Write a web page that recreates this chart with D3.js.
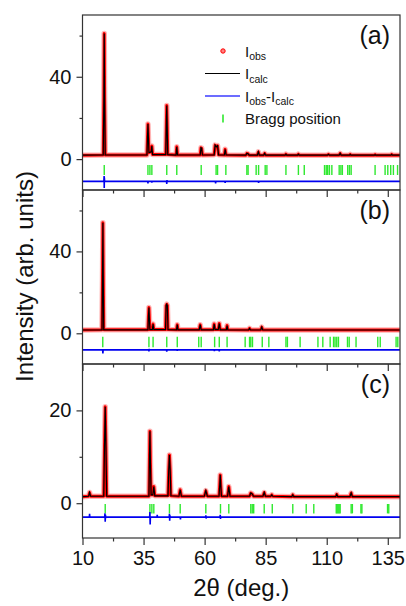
<!DOCTYPE html>
<html><head><meta charset="utf-8">
<script src="https://cdn.jsdelivr.net/npm/d3@7"></script>
<style>body{margin:0;background:#fff}svg{display:block}text{font-family:"Liberation Sans",Arial,Helvetica,sans-serif}</style>
</head><body><svg id="c" width="406" height="606"></svg>
<script>
// ---------- data ----------
const xDomain = [10, 140];
const xTicksMajor = [10, 35, 60, 85, 110, 135];
const xTicksMinor = [22.5, 47.5, 72.5, 97.5, 122.5];

// panel (a)
const obsA = [[10,1.9],[18.5,2.0],[18.75,30],[18.9,61],[19.05,30],[19.3,2.0],
 [36.4,2.0],[36.6,10],[36.8,17],[37.0,10],[37.2,3.2],[38.1,3.5],[38.4,6.4],[38.7,2.2],
 [44.1,2.2],[44.35,18],[44.5,26],[44.65,18],[44.9,2.2],
 [48.3,2.0],[48.6,6.0],[48.9,2.0],
 [58.2,2.0],[58.5,5.5],[58.8,5.3],[59.1,2.0],
 [63.9,2.1],[64.3,6.8],[64.8,6.0],[65.3,6.5],[65.7,2.1],
 [68.1,2.0],[68.4,4.8],[68.8,2.0],
 [76.9,1.9],[77.3,2.8],[77.8,2.6],[78.2,1.9],
 [81.6,1.9],[82.0,3.5],[82.4,1.9],[84.2,1.9],[84.6,2.8],[85.0,1.9],
 [93.0,1.9],[93.3,2.4],[93.6,1.9],[98.1,1.9],[98.4,2.4],[98.7,1.9],
 [110.3,1.9],[110.7,2.3],[111.1,1.9],[115.1,1.9],[115.5,2.8],[115.9,1.9],
 [119.3,1.9],[119.6,2.3],[119.9,1.9],[129.5,1.9],[129.8,2.2],[130.1,1.9],
 [136.3,1.9],[136.6,2.3],[136.9,1.9],[140,1.9]];
const resA = [[10,-10.8],[18.75,-10.8],[18.85,-8.2],[18.9,-14],[18.95,-9],[19.05,-10.8],
 [36.7,-10.8],[36.8,-11.8],[36.9,-10.8],[38.3,-10.8],[38.4,-11.4],[38.5,-10.8],
 [44.4,-10.8],[44.5,-12],[44.6,-10.2],[44.7,-10.8],[64.4,-10.8],[64.5,-11.8],[64.6,-10.8],
 [68.3,-10.8],[68.4,-11.6],[68.5,-10.8],[82,-10.8],[82.1,-11.5],[82.2,-10.8],[140,-10.8]];
const braggA = [18.9,36.8,37.6,38.4,44.5,48.6,58.6,64.7,65.3,68.7,77.3,77.8,81.1,82.1,84.8,85.5,
 93.3,98.4,100.8,109.1,109.8,110.4,111.1,112.1,115.1,115.8,116.4,118.6,119.3,120.0,
 129.8,133.9,135.0,136.2,137.3,139.0];

// panel (b)
const obsB = [[10,1.6],[18.0,1.7],[18.2,28],[18.35,54],[18.5,28],[18.7,1.7],
 [36.8,1.7],[37.0,8],[37.2,12.6],[37.4,7],[37.6,1.8],[38.6,1.8],[38.9,4.5],[39.2,1.8],
 [44.0,1.8],[44.25,13.5],[44.5,14.2],[44.75,13.5],[45.0,1.8],
 [48.5,1.7],[48.8,4.2],[49.1,1.7],[57.8,1.7],[58.2,4.2],[58.6,1.7],
 [63.6,1.7],[63.9,4.5],[64.3,1.8],[65.6,1.8],[66.0,4.8],[66.4,1.7],
 [68.9,1.7],[69.2,3.8],[69.5,1.7],[78.0,1.6],[78.4,2.4],[78.8,1.6],
 [83.0,1.6],[83.4,3.0],[83.8,1.6],[140,1.6]];
const resB = [[10,-8.1],[18.25,-8.1],[18.35,-9.8],[18.45,-8.1],[37.1,-8.1],[37.2,-8.8],[37.3,-7.6],[37.4,-8.1],
 [44.4,-8.1],[44.5,-9],[44.6,-8.1],[48.7,-8.1],[48.8,-8.6],[48.9,-8.1],[63.9,-8.1],[64,-8.7],[64.1,-8.1],
 [65.9,-8.1],[66,-8.8],[66.1,-8.1],[140,-8.1]];
const braggB = [18.3,37.2,38.9,44.5,48.8,57.6,58.6,64.1,66.0,69.2,76.6,78.4,78.9,79.6,83.6,86.3,
 93.3,93.9,99.1,106.4,108.4,111.4,112.8,113.4,114.1,114.8,118.5,119.2,122.0,130.9,131.9,138.4,139.1];

// panel (c)
const obsC = [[10,1.4],[12.5,1.5],[12.9,2.3],[13.3,1.5],
 [18.7,1.5],[19.0,12],[19.3,20.8],[19.6,12],[19.9,1.5],
 [37.2,1.5],[37.4,9],[37.6,15.5],[37.8,9],[38.1,1.8],[38.8,1.8],[39.2,3.6],[39.6,1.6],
 [45.0,1.6],[45.3,7],[45.6,10.4],[45.9,7],[46.2,1.6],[49.5,1.5],[50.0,2.9],[50.5,1.5],
 [59.9,1.5],[60.5,2.7],[61.1,1.5],[65.9,1.5],[66.2,4],[66.4,6.1],[66.6,4],[66.9,1.5],
 [69.4,1.5],[69.9,3.6],[70.4,1.5],[78.4,1.5],[78.9,2.2],[79.5,2.0],[80.0,1.5],
 [83.9,1.5],[84.4,2.3],[84.9,1.5],[87.1,1.5],[87.5,1.8],[87.9,1.5],
 [95.7,1.4],[96.1,1.8],[96.5,1.4],[113.7,1.4],[114.1,1.9],[114.5,1.4],
 [119.5,1.4],[120.0,2.2],[120.5,1.4],[140,1.4]];
const resC = [[10,-3],[12.8,-3],[12.9,-2.3],[13,-3],[19.1,-3],[19.2,-2.2],[19.3,-4.0],[19.4,-2.5],[19.5,-3.2],[19.6,-3],
 [37.5,-3],[37.6,-1.9],[37.7,-4.6],[37.8,-3],[40.5,-3],[40.6,-2.5],[40.7,-3],
 [45.5,-3],[45.6,-2.3],[45.7,-3.8],[45.8,-2.6],[45.9,-3],[50,-3],[50.1,-3.5],[50.2,-3],
 [60.4,-3],[60.5,-2.6],[60.6,-3.3],[60.7,-3],[66.3,-3],[66.4,-2.5],[66.5,-3.4],[66.6,-3],[140,-3]];
const braggC = [19.3,37.6,38.4,39.2,45.6,50.0,60.5,66.5,69.9,78.9,79.5,80.1,84.4,87.7,96.1,101.6,104.7,
 113.9,114.3,114.7,115.1,115.5,120.0,120.5,124.0,124.4,134.9,135.4];

const panelLabels = ["(a)", "(b)", "(c)"];
const yDomains = [[-15,70],[-15,70],[-7.5,30]];
const yMajorTicks = [[0,40],[0,40],[0,20]];
const yMinorTicks = [[20,60],[20,60],[10]];
const braggSpans = [[-2.9,-7.7],[-1.65,-6.8],[-0.15,-2.2]];
const legendLabels = [["I","obs"],["I","calc"],["I","obs","-I","calc"],["Bragg position"]];
const xTitle = "2θ (deg.)";
const yTitle = "Intensity (arb. units)";

// ---------- layout ----------
const L = 82.5, R = 400;
const panelTops = [15, 190, 364], panelBottoms = [190, 364, 538];
const FONT = '"Liberation Sans",Arial,Helvetica,sans-serif';

const svg = d3.select("#c");
const x = d3.scaleLinear().domain(xDomain).range([L, R]);
const obs = [obsA, obsB, obsC], res = [resA, resB, resC], bragg = [braggA, braggB, braggC];

panelTops.forEach((top, i) => {
  const bottom = panelBottoms[i];
  const y = d3.scaleLinear().domain(yDomains[i]).range([bottom, top]);
  const g = svg.append("g");
  const cid = "clip" + i;
  svg.append("clipPath").attr("id", cid).append("rect")
     .attr("x", L).attr("y", top).attr("width", R - L).attr("height", bottom - top);
  const pg = g.append("g").attr("clip-path", `url(#${cid})`);
  const line = d3.line().x(d => x(d[0])).y(d => y(d[1]));

  // Bragg positions
  pg.selectAll("line.bragg").data(bragg[i]).join("line")
    .attr("x1", d => x(d)).attr("x2", d => x(d))
    .attr("y1", y(braggSpans[i][0])).attr("y2", y(braggSpans[i][1]))
    .attr("stroke", "#2ee82e").attr("stroke-width", 1.4);
  // difference
  pg.append("path").attr("d", line(res[i])).attr("fill", "none")
    .attr("stroke", "#0000f0").attr("stroke-width", 1.6);
  // observed (red) + calculated (black)
  pg.append("path").attr("d", line(obs[i])).attr("fill", "none")
    .attr("stroke", "rgba(255,40,40,0.35)").attr("stroke-width", 5.5).attr("stroke-linejoin", "round");
  pg.append("path").attr("d", line(obs[i])).attr("fill", "none")
    .attr("stroke", "#ff0000").attr("stroke-width", 3).attr("stroke-linejoin", "round");
  pg.append("path").attr("d", line(obs[i])).attr("fill", "none")
    .attr("stroke", "#000").attr("stroke-width", 1.2);

  // frame
  g.append("rect").attr("x", L).attr("y", top).attr("width", R - L).attr("height", bottom - top)
    .attr("fill", "none").attr("stroke", "#333").attr("stroke-width", 1.2);

  // y axis
  const ya = g.append("g").attr("transform", `translate(${L},0)`)
    .call(d3.axisLeft(y).tickValues(yMajorTicks[i]).tickSize(6).tickPadding(5));
  ya.select(".domain").remove();
  ya.selectAll("line").attr("stroke", "#333").attr("stroke-width", 1.2);
  ya.selectAll("text").attr("font-size", 20).attr("font-family", FONT).attr("fill", "#111");
  const ym = g.append("g").attr("transform", `translate(${L},0)`)
    .call(d3.axisLeft(y).tickValues(yMinorTicks[i]).tickSize(3).tickFormat(""));
  ym.select(".domain").remove();
  ym.selectAll("line").attr("stroke", "#333").attr("stroke-width", 1.2);

  // x axis
  const xa = g.append("g").attr("transform", `translate(0,${bottom})`)
    .call(d3.axisBottom(x).tickValues(xTicksMajor).tickSize(7).tickPadding(6)
      .tickFormat(i === 2 ? d3.format("d") : ""));
  xa.select(".domain").remove();
  xa.selectAll("line").attr("stroke", "#333").attr("stroke-width", 1.2);
  xa.selectAll("text").attr("font-size", 20).attr("font-family", FONT).attr("fill", "#111");
  const xm = g.append("g").attr("transform", `translate(0,${bottom})`)
    .call(d3.axisBottom(x).tickValues(xTicksMinor).tickSize(3.5).tickFormat(""));
  xm.select(".domain").remove();
  xm.selectAll("line").attr("stroke", "#333").attr("stroke-width", 1.2);

  // panel label
  g.append("text").attr("x", 390).attr("y", top + 29).attr("text-anchor", "end")
    .attr("font-size", 25).attr("fill", "#111").text(panelLabels[i]);
});

// legend (panel a)
const lg = svg.append("g");
const rowY = [51, 73.5, 96, 118.5];
lg.append("circle").attr("cx", 223).attr("cy", rowY[0]).attr("r", 2.2)
  .attr("fill", "#ff8080").attr("stroke", "#ff0000").attr("stroke-width", 1);
lg.append("line").attr("x1", 205).attr("x2", 240).attr("y1", rowY[1]).attr("y2", rowY[1])
  .attr("stroke", "#000").attr("stroke-width", 1.2);
lg.append("line").attr("x1", 205).attr("x2", 240).attr("y1", rowY[2]).attr("y2", rowY[2])
  .attr("stroke", "#3b3bff").attr("stroke-width", 1.4);
lg.append("line").attr("x1", 223).attr("x2", 223).attr("y1", rowY[3] - 4).attr("y2", rowY[3] + 4)
  .attr("stroke", "#2ee82e").attr("stroke-width", 1.6);
legendLabels.forEach((parts, r) => {
  const t = lg.append("text").attr("x", 245).attr("y", rowY[r] + 5.5).attr("font-size", 15).attr("fill", "#111");
  parts.forEach((p, k) => {
    const sub = parts.length > 1 && k % 2 === 1;
    t.append("tspan").attr("font-size", sub ? 10.5 : 15)
      .attr("dy", sub ? 3.5 : (k > 0 ? -3.5 : 0)).text(p);
  });
});

// axis titles
svg.append("text").attr("x", (L + R) / 2).attr("y", 596).attr("text-anchor", "middle")
  .attr("font-size", 24).attr("fill", "#111").text(xTitle);
svg.append("text").attr("transform", `translate(33,${(15 + 538) / 2}) rotate(-90)`)
  .attr("text-anchor", "middle").attr("font-size", 24).attr("fill", "#111").text(yTitle);
</script>
</body></html>
